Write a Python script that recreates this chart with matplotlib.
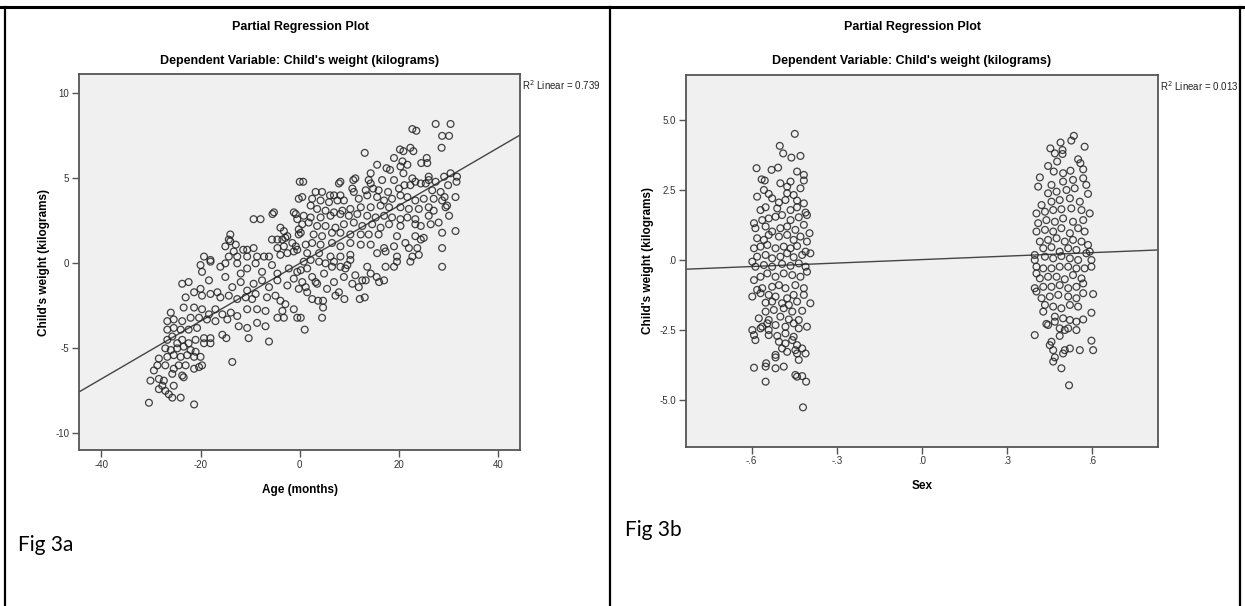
import matplotlib
matplotlib.use('Agg')
import matplotlib.pyplot as plt
from matplotlib.lines import Line2D
from matplotlib.ticker import FuncFormatter
import numpy as np

# Fig 3a - partial regression of weight on age
age_x = [0.0, -0.2, -5.2, -5.5, -1.2, -0.8, -0.5, -9.3, -7.9, -3.9, -3.2, -2.5, -0.2, -0.2, -14.0, -14.3,
         -15.0, -14.0, -12.9, -11.4, -10.6, -9.3, -5.6, -4.5, -3.5, -2.9, -4.5, -3.2, -1.5, -0.8, -19.3, -18.0,
         -14.3, -13.3, -12.6, -10.6, -8.6, -7.2, -6.2, -3.9, -2.5, -1.2, -0.5,
         22.7, 23.5, 27.4, 30.4, 28.7, 30.1, 28.6, 13.1, 20.2, 20.9, 22.3, 22.9, 19.0, 20.7, 21.7, 20.3,
         24.5, 25.6, 25.7, 15.6, 17.5, 18.2, 14.3, 20.9, 11.2, 10.8, 8.2, 7.9, 13.9, 14.3, 16.6, 19.0,
         22.7, 23.3, 26.0, 26.0, 27.4, 29.1, 30.4, 31.7, 31.6, 29.9, 0.7, 3.2, 4.5, 6.1, 6.9, 8.2,
         10.6, 10.9, 13.3, 14.8, 15.9, 17.8, 20.0, 21.1, 22.3, 24.4, 25.4, 26.7, 28.4, 29.2, 31.4, 0.5,
         2.5, 4.2, 5.9, 7.6, 8.9, 11.9, 13.6, 15.6, 17.0, 18.6, 20.3, 21.7, 23.3, 25.0, 27.0, 28.7,
         29.7, 2.2, 3.5, 5.2, 6.9, 8.6, 10.2, 12.3, 14.3, 16.3, 18.0, 20.3, 22.0, 24.0, 26.0, 27.0,
         29.4, 30.1, 0.8, 2.2, 4.2, 6.2, 8.2, 9.9, 11.6, 13.6, 15.3, 17.0, 18.6, 20.3, 21.7, 23.3,
         26.0, 28.0, 0.5, 1.8, 3.5, 5.2, 7.2, 8.9, 10.9, 12.6, 14.6, 16.3, 18.0, 20.3, 23.3, 24.4,
         26.4, 31.4, 0.2, 2.8, 4.5, 6.5, 8.2, 10.2, 12.3, 13.9, 15.9, 19.6, 23.3, 25.0, 28.7, 1.2,
         2.5, 4.2, 6.5, 8.2, 10.2, 12.3, 14.3, 17.0, 19.0, 21.3, 22.0, 23.7, 24.4, 28.7, 1.5, 3.9,
         6.2, 8.2, 10.2, 15.6, 17.3, 19.6, 22.7, 24.0,
         -20.0, -19.7, -18.0, -16.0, -15.0, -12.6, -11.9, -10.6, -8.9, -7.6, -5.6, -4.5, -2.2, -0.5,
         -23.7, -22.4, -20.0, -18.3, -16.6, -15.0, -13.6, -11.9, -10.6, -9.3, -7.6, -6.2, -4.5, -2.5,
         -1.2, -0.2, -23.0, -21.3, -19.7, -18.0, -16.0, -14.3, -12.6, -10.9, -9.6, -8.9, -6.6, -4.9,
         -3.9, -2.9, -26.0, -23.4, -21.3, -19.7, -18.3, -17.0, -15.6, -13.9, -12.6, -10.6, -8.6, -6.9,
         -3.5, -1.2, -26.7, -25.4, -23.7, -22.0, -20.3, -18.7, -17.0, -14.6, -12.3, -10.6, -8.6, -6.9,
         -4.5, -3.2, -0.5, -26.7, -25.4, -24.0, -22.4, -20.7, -19.3, -18.0, -19.3, -18.0, -15.6, -14.8,
         -10.3, -6.2, -26.7, -25.7, -24.7, -23.7, -22.4, -21.0, -27.1, -26.0, -24.7, -23.4, -22.0, -21.0,
         -26.7, -25.4, -24.0, -22.7, -21.3, -20.0, -28.4, -13.6, -28.7, -29.4, -27.1, -25.4, -24.4, -23.0,
         -21.3, -20.3, -19.7, -25.7, -23.7, -23.4, -30.1, -28.4, -27.4, -27.7, -25.4, -28.4, -27.1, -26.4,
         -25.7, -24.0, -30.4, -21.3,
         0.8, 2.2, 3.9, 5.2, 6.5, 6.9, 8.2, 9.6, 10.2, 0.2, 1.5, 2.5, 3.2, 4.9, 0.5, 1.2,
         1.5, 3.5, 5.5, 6.9, 7.2, 7.9, 8.9, 9.2, 10.6, 11.2, 11.9, 12.6, 13.3, 13.6, 14.3, 15.5,
         16.0, 17.0, 17.3, 19.0, 19.6, 22.3, 28.7, 2.5, 3.7, 4.7, 4.7, 9.0, 12.1, 13.1, 4.5, 1.0,
         0.2]
age_y = [4.8, 3.8, 3.0, 2.9, 3.0, 2.9, 2.6, 2.6, 2.6, 2.1, 1.9, 1.6, 2.0, 1.7, 1.7, 1.4,
         1.0, 1.3, 1.1, 0.8, 0.8, 0.9, 1.4, 1.4, 1.4, 1.5, 0.9, 1.0, 1.2, 1.0, 0.4, 0.2,
         0.4, 0.7, 0.4, 0.4, 0.4, 0.4, 0.4, 0.5, 0.6, 0.7, 0.8,
         7.9, 7.8, 8.2, 8.2, 7.5, 7.5, 6.8, 6.5, 6.7, 6.6, 6.8, 6.6, 6.2, 6.0, 5.8, 5.7,
         5.9, 6.2, 5.9, 5.8, 5.6, 5.5, 5.3, 5.3, 5.0, 4.9, 4.8, 4.7, 4.9, 4.7, 4.9, 4.9,
         5.0, 4.8, 5.1, 4.9, 4.8, 5.1, 5.3, 5.1, 4.8, 4.6, 4.8, 4.2, 4.2, 4.0, 4.0, 4.0,
         4.4, 4.2, 4.3, 4.4, 4.3, 4.2, 4.4, 4.6, 4.6, 4.7, 4.7, 4.3, 4.2, 3.9, 3.9, 3.9,
         3.8, 3.7, 3.6, 3.7, 3.7, 3.8, 4.0, 3.9, 3.7, 3.8, 4.0, 3.9, 3.7, 3.8, 3.8, 3.7,
         3.4, 3.4, 3.2, 3.1, 3.0, 3.1, 3.2, 3.3, 3.3, 3.4, 3.3, 3.3, 3.2, 3.2, 3.3, 3.1,
         3.3, 2.8, 2.8, 2.7, 2.7, 2.8, 2.9, 2.8, 2.9, 2.8, 2.7, 2.8, 2.7, 2.6, 2.7, 2.6,
         2.8, 2.4, 2.3, 2.4, 2.2, 2.2, 2.1, 2.3, 2.4, 2.2, 2.3, 2.1, 2.3, 2.2, 2.3, 2.2,
         2.3, 1.9, 1.8, 1.7, 1.6, 1.8, 1.8, 1.7, 1.7, 1.7, 1.7, 1.6, 1.6, 1.5, 1.8, 1.1,
         1.2, 1.1, 1.2, 1.0, 1.2, 1.1, 1.1, 0.9, 1.0, 1.2, 0.9, 0.9, 1.4, 0.9, 0.6, 0.6,
         0.4, 0.4, 0.5, 0.6, 0.7, 0.4, 0.4, 0.5,
         -0.1, -0.5, 0.1, -0.2, -0.0, 0.0, -0.6, -0.3, 0.0, -0.5, -0.1, -0.6, -0.3, -0.5,
         -1.2, -1.1, -1.5, -1.0, -1.7, -0.8, -1.4, -1.1, -1.6, -1.2, -1.0, -1.4, -1.0, -1.3,
         -0.9, -1.5, -2.0, -1.7, -1.9, -1.8, -2.0, -1.9, -2.1, -2.0, -2.1, -1.8, -2.0, -1.9,
         -2.2, -2.4, -2.9, -2.6, -2.6, -2.7, -3.0, -2.7, -3.0, -2.9, -3.1, -2.7, -2.7, -2.8,
         -2.8, -2.7, -3.4, -3.3, -3.4, -3.2, -3.2, -3.3, -3.4, -3.3, -3.7, -3.8, -3.5, -3.7,
         -3.2, -3.2, -3.2, -3.9, -3.8, -3.9, -3.9, -3.8, -4.4, -4.4, -4.7, -4.7, -4.2, -4.4,
         -4.4, -4.6, -4.5, -4.3, -4.7, -4.5, -4.7, -4.5, -5.0, -5.1, -5.0, -4.9, -5.1, -5.2,
         -5.5, -5.4, -5.5, -5.4, -5.5, -5.5, -5.6, -5.8, -6.0, -6.3, -6.0, -6.2, -6.0, -6.0,
         -6.2, -6.1, -6.0, -6.5, -6.6, -6.7, -6.9, -6.8, -6.9, -7.2, -7.2, -7.4, -7.5, -7.7,
         -7.9, -7.9, -8.2, -8.3,
         0.1, 0.2, 0.1, 0.0, -0.2, 0.1, -0.2, -0.1, 0.2, -0.4, -0.3, -0.8, -1.1, -0.6, -1.1, -1.4,
         -1.7, -1.2, -1.5, -1.1, -1.9, -1.7, -0.8, -0.3, -1.2, -0.7, -1.4, -1.0, -1.0, -0.2, -0.6, -0.8,
         -1.1, -1.0, -0.2, -0.2, 0.1, 0.1, -0.2, -2.1, -2.2, -2.2, -2.6, -2.1, -2.1, -2.0, -3.2, -3.9,
         -3.2]
age_fit = (0.0, 0.170)   # intercept, slope
age_r2 = 0.739

# Fig 3b - partial regression of weight on sex
sex_x = [-0.448, -0.501, -0.489, -0.460, -0.428, -0.583, -0.530, -0.507, -0.440, -0.416, -0.416, -0.565,
         -0.554, -0.499, -0.475, -0.463, -0.428, -0.557, -0.540, -0.581, -0.528, -0.475, -0.452, -0.440,
         -0.504, -0.481, -0.416, -0.569, -0.551, -0.510, -0.463, -0.440, -0.410, -0.592, -0.563, -0.540,
         -0.516, -0.493, -0.463, -0.434, -0.405, -0.587, -0.551, -0.528, -0.499, -0.475, -0.446, -0.416,
         -0.396, -0.581, -0.557, -0.540, -0.504, -0.475, -0.452, -0.428, -0.405, -0.592, -0.569, -0.545,
         -0.516, -0.487, -0.463, -0.440, -0.410, -0.581, -0.551, -0.528, -0.499, -0.475, -0.452, -0.422,
         -0.393, -0.598, -0.587, -0.557, -0.528, -0.493, -0.463, -0.434, -0.410, -0.592, -0.569, -0.545,
         -0.516, -0.487, -0.457, -0.428, -0.405, -0.581, -0.563, -0.528, -0.504, -0.481, -0.446, -0.416,
         -0.598, -0.569, -0.540, -0.516, -0.475, -0.452, -0.416, -0.551, -0.528, -0.493, -0.469, -0.440,
         -0.393, -0.551, -0.522, -0.487, -0.457, -0.422, -0.575, -0.540, -0.499, -0.469, -0.434, -0.563,
         -0.545, -0.516, -0.481, -0.452, -0.405, -0.598, -0.592, -0.587, -0.569, -0.540, -0.540, -0.510,
         -0.481, -0.452, -0.434, -0.504, -0.481, -0.457, -0.440, -0.493, -0.516, -0.516, -0.475, -0.446,
         -0.422, -0.440, -0.410, -0.434, -0.592, -0.551, -0.549, -0.516, -0.487, -0.551, -0.446, -0.440,
         -0.422, -0.408, -0.419,
         0.537, 0.528, 0.575, 0.454, 0.490, 0.470, 0.497, 0.497, 0.478, 0.446, 0.466, 0.552,
         0.560, 0.525, 0.499, 0.570, 0.417, 0.411, 0.458, 0.499, 0.534, 0.570, 0.581, 0.446,
         0.476, 0.511, 0.540, 0.587, 0.423, 0.458, 0.487, 0.523, 0.558, 0.405, 0.435, 0.464,
         0.493, 0.528, 0.564, 0.593, 0.411, 0.440, 0.470, 0.499, 0.534, 0.570, 0.405, 0.435,
         0.464, 0.493, 0.523, 0.552, 0.575, 0.417, 0.446, 0.476, 0.505, 0.534, 0.564, 0.587,
         0.429, 0.458, 0.487, 0.517, 0.546, 0.581, 0.593, 0.399, 0.399, 0.435, 0.464, 0.493,
         0.523, 0.552, 0.599, 0.599, 0.405, 0.405, 0.429, 0.458, 0.487, 0.517, 0.546, 0.575,
         0.417, 0.446, 0.476, 0.505, 0.534, 0.564, 0.399, 0.405, 0.429, 0.458, 0.487, 0.517,
         0.546, 0.570, 0.605, 0.423, 0.452, 0.482, 0.517, 0.546, 0.570, 0.435, 0.429, 0.464,
         0.493, 0.523, 0.552, 0.599, 0.440, 0.446, 0.470, 0.470, 0.499, 0.523, 0.546, 0.570,
         0.487, 0.505, 0.517, 0.546, 0.399, 0.487, 0.458, 0.452, 0.464, 0.505, 0.499, 0.523,
         0.558, 0.599, 0.605, 0.470, 0.464, 0.493, 0.520]
sex_y = [4.52, 4.09, 3.82, 3.67, 3.73, 3.29, 3.23, 3.31, 3.17, 3.05, 2.85, 2.89,
         2.85, 2.75, 2.63, 2.81, 2.57, 2.51, 2.37, 2.27, 2.21, 2.39, 2.33, 2.13,
         2.06, 2.15, 2.03, 1.79, 1.89, 1.85, 1.79, 1.89, 1.70, 1.32, 1.43, 1.49,
         1.55, 1.61, 1.43, 1.53, 1.61, 1.14, 1.20, 1.02, 1.14, 1.20, 1.08, 1.26,
         0.96, 0.78, 0.72, 0.90, 0.84, 0.90, 0.72, 0.84, 0.66, 0.42, 0.48, 0.54,
         0.42, 0.48, 0.42, 0.50, 0.30, 0.12, 0.18, 0.06, 0.12, 0.24, 0.10, 0.18,
         0.24, -0.06, -0.24, -0.18, -0.24, -0.14, -0.21, -0.12, -0.24, -0.72, -0.60, -0.48,
         -0.60, -0.48, -0.54, -0.60, -0.42, -1.07, -1.01, -0.96, -0.90, -1.01, -0.90, -1.01,
         -1.31, -1.19, -1.25, -1.31, -1.37, -1.25, -1.25, -1.53, -1.49, -1.55, -1.61, -1.49,
         -1.55, -1.85, -1.79, -1.73, -1.85, -1.82, -2.09, -2.15, -2.03, -2.13, -2.15, -2.39,
         -2.27, -2.33, -2.39, -2.27, -2.39, -2.51, -2.69, -2.87, -2.45, -2.51, -2.69, -2.72,
         -2.63, -2.75, -2.45, -2.93, -2.99, -2.87, -3.05, -3.17, -3.40, -3.49, -3.29, -3.23,
         -3.17, -3.35, -3.35, -3.58, -3.86, -3.82, -3.70, -3.88, -3.82, -4.36, -4.12, -4.18,
         -4.16, -4.36, -5.28,
         4.45, 4.28, 4.06, 4.00, 4.21, 3.82, 3.94, 3.80, 3.53, 3.37, 3.17, 3.61,
         3.47, 3.20, 3.11, 3.25, 2.96, 2.63, 2.69, 2.81, 2.87, 2.93, 2.69, 2.39,
         2.45, 2.51, 2.57, 2.37, 1.97, 2.09, 2.15, 2.21, 2.09, 1.67, 1.73, 1.79,
         1.82, 1.85, 1.79, 1.67, 1.32, 1.43, 1.37, 1.49, 1.37, 1.43, 1.02, 1.08,
         1.02, 1.14, 0.96, 1.14, 1.02, 0.66, 0.72, 0.78, 0.66, 0.72, 0.66, 0.54,
         0.42, 0.46, 0.30, 0.42, 0.36, 0.24, 0.30, 0.18, 0.00, 0.12, 0.06, 0.14,
         0.06, 0.00, 0.00, -0.24, -0.24, -0.48, -0.30, -0.30, -0.24, -0.24, -0.30, -0.30,
         -0.66, -0.60, -0.60, -0.69, -0.54, -0.66, -1.01, -1.13, -0.96, -0.96, -0.90, -1.01,
         -0.96, -0.84, -1.22, -1.37, -1.31, -1.25, -1.31, -1.37, -1.19, -1.61, -1.85, -1.67,
         -1.73, -1.61, -1.67, -1.89, -2.29, -2.33, -2.03, -2.21, -2.09, -2.15, -2.21, -2.13,
         -2.45, -2.51, -2.45, -2.51, -2.69, -2.72, -2.93, -3.05, -3.23, -3.23, -3.35, -3.17,
         -3.23, -2.89, -3.23, -3.49, -3.64, -3.88, -4.49]
sex_fit = (0.015, 0.414)
sex_r2 = 0.013

plt.rcParams['font.family'] = ['Liberation Sans', 'DejaVu Sans']
plt.rcParams['axes.unicode_minus'] = False

fig = plt.figure(figsize=(12.45, 6.06), dpi=100)

# frame of the document table
for x in [5, 610, 1240]:
    fig.add_artist(Line2D([x / 1245, x / 1245], [0, 1 - 7 / 606], color='black', lw=1.6))
fig.add_artist(Line2D([0, 1], [1 - 7 / 606, 1 - 7 / 606], color='black', lw=2.2))


def spss_fmt(v, pos):
    s = '%.1f' % v
    s = s.replace('0.', '.')
    if s == '-.0':
        s = '.0'
    return s


def draw_panel(rect, xs, ys, fit, r2, xlim, ylim, xticks, yticks, xlabel, fmt, title_x):
    ax = fig.add_axes(rect)
    ax.set_facecolor('#f0f0f0')
    ax.scatter(xs, ys, s=24, facecolors='none', edgecolors='#222222', linewidths=0.9, alpha=0.85, zorder=3)
    ax.axline((0, fit[0]), slope=fit[1], color='#444444', lw=1.0, zorder=2)
    ax.set_xlim(xlim)
    ax.set_ylim(ylim)
    ax.set_xticks(xticks)
    ax.set_yticks(yticks)
    if fmt is not None:
        ax.xaxis.set_major_formatter(FuncFormatter(fmt))
        ax.yaxis.set_major_formatter(FuncFormatter(fmt))
    for sp in ax.spines.values():
        sp.set_color('#555555')
        sp.set_linewidth(1.3)
    ax.tick_params(direction='out', length=5, width=1, color='#555555', labelsize=7, labelcolor='#333333', pad=2)
    ax.set_xlabel(xlabel, fontsize=8.5, fontweight='bold', labelpad=10)
    ax.set_ylabel("Child's weight (kilograms)", fontsize=8.5, fontweight='bold', labelpad=4)
    fig.text(title_x, 1 - 27 / 606, 'Partial Regression Plot', ha='center', va='center',
             fontsize=9, fontweight='bold')
    fig.text(title_x, 1 - 61 / 606, "Dependent Variable: Child's weight (kilograms)", ha='center',
             va='center', fontsize=9, fontweight='bold')
    ax.text(1.005, 0.97, 'R$^2$ Linear = %.3f' % r2, transform=ax.transAxes, fontsize=7,
            ha='left', va='center', color='#222222')
    return ax


draw_panel([79 / 1245, 1 - 450 / 606, 441 / 1245, 376 / 606], age_x, age_y, age_fit, age_r2,
           (-44.5, 44.4), (-10.98, 11.14), [-40, -20, 0, 20, 40], [-10, -5, 0, 5, 10],
           'Age (months)', None, 300 / 1245)
draw_panel([686 / 1245, 1 - 446.7 / 606, 472 / 1245, 371.7 / 606], sex_x, sex_y, sex_fit, sex_r2,
           (-0.832, 0.834), (-6.69, 6.63), [-0.6, -0.3, 0.0, 0.3, 0.6], [-5.0, -2.5, 0.0, 2.5, 5.0],
           'Sex', spss_fmt, 912 / 1245)

fig.text(18 / 1245, 1 - 545 / 606, 'Fig 3a', fontsize=15, family=['Lato', 'DejaVu Sans'],
         ha='left', va='center')
fig.text(625 / 1245, 1 - 530 / 606, 'Fig 3b', fontsize=15, family=['Lato', 'DejaVu Sans'],
         ha='left', va='center')

fig.savefig('out.png', dpi=100)
